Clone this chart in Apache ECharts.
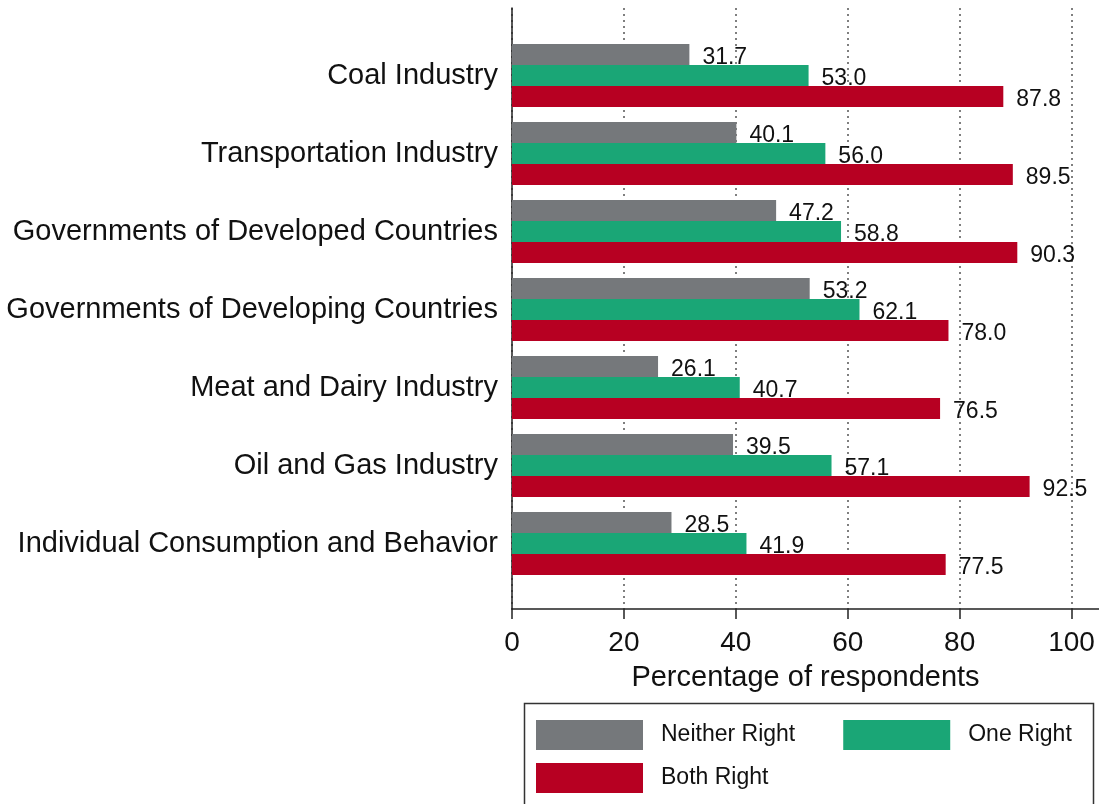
<!DOCTYPE html>
<html>
<head>
<meta charset="utf-8">
<script src="https://cdn.jsdelivr.net/npm/echarts@6/dist/echarts.min.js"></script>
<style>
  html, body { margin: 0; padding: 0; background: #fff; }
  #chart { width: 1099px; height: 804px; }
</style>
</head>
<body>
<div id="chart"></div>
<script>
const categories = [
  'Coal Industry',
  'Transportation Industry',
  'Governments of Developed Countries',
  'Governments of Developing Countries',
  'Meat and Dairy Industry',
  'Oil and Gas Industry',
  'Individual Consumption and Behavior'
];
const neitherRight = [31.7, 40.1, 47.2, 53.2, 26.1, 39.5, 28.5];
const oneRight = [53.0, 56.0, 58.8, 62.1, 40.7, 57.1, 41.9];
const bothRight = [87.8, 89.5, 90.3, 78.0, 76.5, 92.5, 77.5];
const xTicks = [0, 20, 40, 60, 80, 100];

const FONT = '"Liberation Sans", Arial, Helvetica, sans-serif';
const X_MAX = 104.9;

function barSeries(name, data, color) {
  return {
    name: name,
    type: 'bar',
    xAxisIndex: 0,
    yAxisIndex: 0,
    data: data,
    barGap: '0%',
    barCategoryGap: '19%',
    itemStyle: { color: color },
    label: {
      show: true,
      position: 'right',
      distance: 13,
      offset: [0, 3],
      color: '#111',
      fontSize: 23,
      fontFamily: FONT,
      formatter: p => p.value.toFixed(1)
    }
  };
}

const option = {
  animation: false,
  backgroundColor: '#fff',
  textStyle: { fontFamily: FONT },
  grid: [
    { left: 512, right: 0, top: 36.5, height: 546 },
    { left: 512, right: 0, top: 8, bottom: 195 }
  ],
  xAxis: [
    {
      gridIndex: 0, type: 'value', min: 0, max: X_MAX, show: false
    },
    {
      gridIndex: 1, type: 'value', min: 0, max: X_MAX, interval: 20,
      name: 'Percentage of respondents',
      nameLocation: 'middle',
      nameGap: 54,
      nameTextStyle: { fontSize: 29, color: '#111', fontFamily: FONT },
      axisLine: { show: true, lineStyle: { color: '#222', width: 1.5 } },
      axisTick: { show: true, length: 10, lineStyle: { color: '#222', width: 1.5 }, customValues: xTicks },
      axisLabel: { fontSize: 28, color: '#111', margin: 20, fontFamily: FONT, customValues: xTicks },
      splitLine: { show: true, lineStyle: { color: '#555', type: [2, 4], width: 1.5 } }
    }
  ],
  yAxis: [
    {
      gridIndex: 0, type: 'category', data: categories, inverse: true,
      axisLine: { show: false },
      axisTick: { show: false },
      axisLabel: { fontSize: 29, color: '#111', margin: 14, fontFamily: FONT, padding: [14, 0, 0, 0] }
    },
    {
      gridIndex: 1, type: 'value', min: 0, max: 1,
      axisLine: { show: true, lineStyle: { color: '#222', width: 1.5 } },
      axisTick: { show: false },
      axisLabel: { show: false },
      splitLine: { show: false }
    }
  ],
  legend: [
    {
      data: ['Neither Right', 'One Right'],
      left: 536, top: 720, padding: 0,
      itemWidth: 107, itemHeight: 30, itemGap: 48,
      icon: 'rect',
      textStyle: { fontSize: 23, color: '#111', fontFamily: FONT, padding: [0, 0, 0, 13] }
    },
    {
      data: ['Both Right'],
      left: 536, top: 763, padding: 0,
      itemWidth: 107, itemHeight: 30,
      icon: 'rect',
      textStyle: { fontSize: 23, color: '#111', fontFamily: FONT, padding: [0, 0, 0, 13] }
    }
  ],
  graphic: [
    {
      type: 'rect',
      left: 522, top: 701,
      shape: { width: 569, height: 120 },
      style: { fill: 'none', stroke: '#333', lineWidth: 1.5 },
      silent: true
    }
  ],
  series: [
    barSeries('Neither Right', neitherRight, '#75787b'),
    barSeries('One Right', oneRight, '#1aa676'),
    barSeries('Both Right', bothRight, '#b70022')
  ]
};

const myChart = echarts.init(document.getElementById('chart'));
myChart.setOption(option);
window.addEventListener('resize', function () {
  myChart.resize();
});
</script>
</body>
</html>
